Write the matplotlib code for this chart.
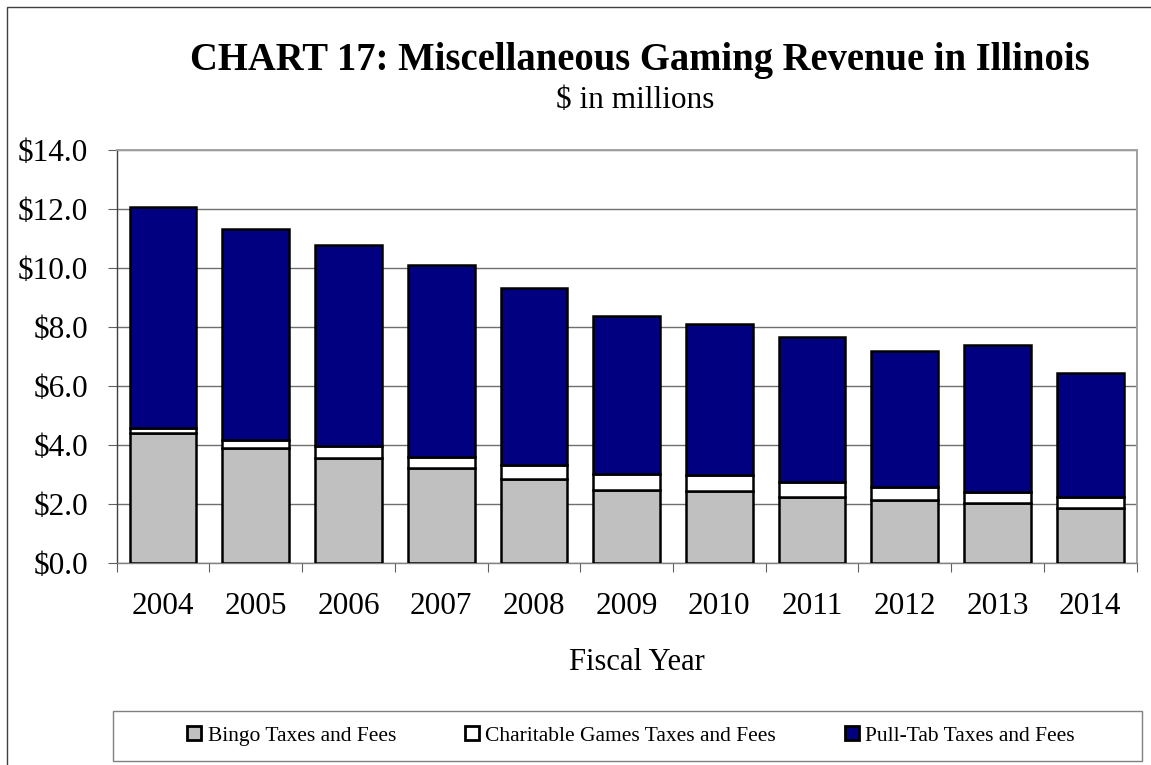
import matplotlib
matplotlib.use("Agg")
import matplotlib.pyplot as plt
from matplotlib.patches import Rectangle, Patch
import numpy as np

plt.rcParams['font.family'] = ['Liberation Serif', 'DejaVu Serif']

years = ['2004', '2005', '2006', '2007', '2008', '2009', '2010', '2011', '2012', '2013', '2014']
bingo = [4.42, 3.89, 3.58, 3.24, 2.85, 2.47, 2.45, 2.26, 2.15, 2.04, 1.87]
charitable = [0.18, 0.28, 0.39, 0.36, 0.48, 0.55, 0.54, 0.48, 0.43, 0.37, 0.36]
pull_tab = [7.46, 7.17, 6.81, 6.52, 5.98, 5.35, 5.12, 4.94, 4.62, 5.00, 4.20]
series_names = ['Bingo Taxes and Fees', 'Charitable Games Taxes and Fees', 'Pull-Tab Taxes and Fees']
series_colors = ['#C0C0C0', '#FFFFFF', '#000080']
y_ticks = [0, 2, 4, 6, 8, 10, 12, 14]

W, H = 1151, 765
fig = plt.figure(figsize=(W / 100, H / 100), dpi=100)

# outer chart-area border (left and top edges visible)
fig.patches.append(Rectangle((7 / W, -0.1), 1.2, 1 - 7 / H + 0.1, transform=fig.transFigure,
                             fill=False, edgecolor='#404040', linewidth=1.0))

ax = fig.add_axes([116.7 / W, 1 - 563.3 / H, (1136.5 - 116.7) / W, (563.3 - 150) / H])

x = np.arange(len(years))
bw = 0.72
bottom = np.zeros(len(years))
for vals, color, name in zip([bingo, charitable, pull_tab], series_colors, series_names):
    ax.bar(x, vals, bw, bottom=bottom, color=color, edgecolor='black', linewidth=1.8,
           label=name, zorder=3)
    bottom = bottom + np.array(vals)

ax.set_xlim(-0.5, len(years) - 0.5)
ax.set_ylim(0, 14)
ax.set_yticks(y_ticks)
ax.set_yticklabels([f'${v:.1f}' for v in y_ticks])
ax.set_xticks(x)
ax.set_xticklabels(years)
ax.set_xticks(np.arange(len(years) + 1) - 0.5, minor=True)

ax.yaxis.grid(True, color='#6f6f6f', linewidth=1.0, zorder=0)
ax.set_axisbelow(True)

ax.tick_params(axis='y', which='major', direction='out', length=6.5, width=0.8,
               color='#606060', pad=14, labelsize=22.5)
ax.tick_params(axis='x', which='major', length=0, pad=21, labelsize=22.5)
ax.tick_params(axis='x', which='minor', direction='out', length=6.5, width=0.8, color='#606060')

for side in ['top', 'right']:
    ax.spines[side].set_color('#a0a0a0')
    ax.spines[side].set_linewidth(1.4)
ax.spines['left'].set_color('#404040')
ax.spines['left'].set_linewidth(1.0)
ax.spines['bottom'].set_color('#808080')
ax.spines['bottom'].set_linewidth(1.0)

fig.text(640 / W, 1 - 70 / H, 'CHART 17: Miscellaneous Gaming Revenue in Illinois',
         ha='center', va='baseline', fontsize=27.8, fontweight='bold')
fig.text(635 / W, 1 - 108 / H, '$ in millions', ha='center', va='baseline', fontsize=22.5)
fig.text(637 / W, 1 - 670 / H, 'Fiscal Year', ha='center', va='baseline', fontsize=22)

# legend box
fig.patches.append(Rectangle((113 / W, 1 - 760.7 / H), (1142 - 113) / W, 50 / H,
                             transform=fig.transFigure, fill=False,
                             edgecolor='#808080', linewidth=1.0))
handles = [Patch(facecolor=c, edgecolor='black', linewidth=2.0) for c in series_colors]
fig.legend(handles, series_names, loc='center', bbox_to_anchor=(631 / W, 1 - 736 / H),
           ncol=3, frameon=False, fontsize=15.5, handlelength=0.65, handleheight=0.65,
           handletextpad=0.3, columnspacing=3.2)

fig.savefig('out.png', dpi=100)
